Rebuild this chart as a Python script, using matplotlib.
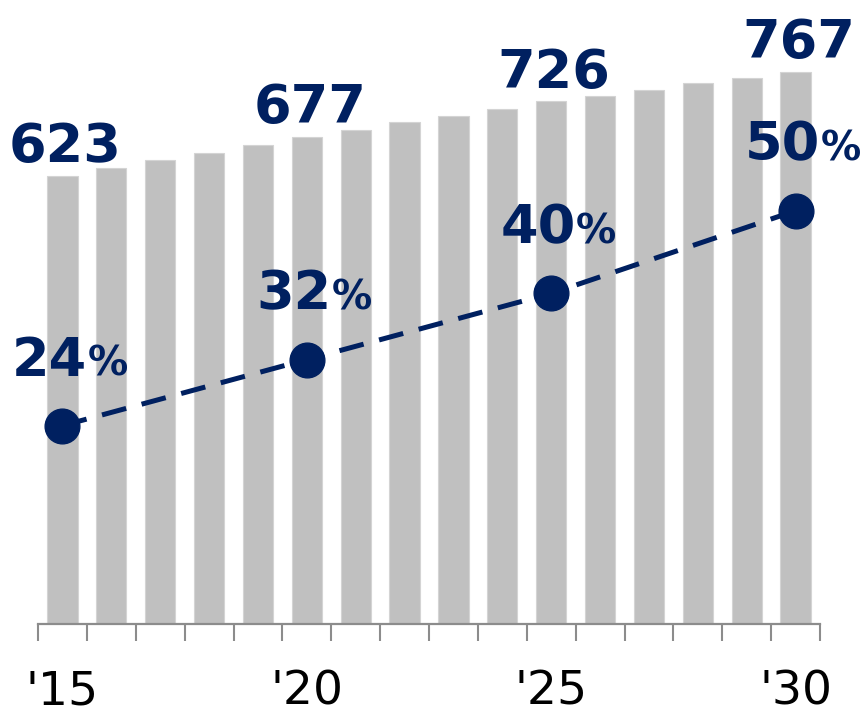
import numpy as np
import matplotlib.pyplot as plt

# bar series: yearly totals, 2015-2030
years = np.arange(2015, 2031)
totals = [623, 633, 644, 655, 665, 677, 687, 697, 706, 716, 726, 734, 742, 751, 759, 767]
labelled_years = [2015, 2020, 2025, 2030]

# share series shown on the dashed line (percent)
share_years = [2015, 2020, 2025, 2030]
share = [24, 32, 40, 50]

tick_years = [2015, 2020, 2025, 2030]
tick_labels = ["'15", "'20", "'25", "'30"]

navy = '#002060'
grey_bar = '#C0C0C0'
grey_axis = '#8C8C8C'

fig = plt.figure(figsize=(8.64, 7.12), dpi=100)
ax = fig.add_axes([38 / 864, 88 / 712, 782 / 864, 624 / 712])

ax.bar(years, totals, width=0.62, color=grey_bar, edgecolor='#D4D4D4', linewidth=0.8, zorder=1)
ax.set_xlim(2014.5, 2030.5)
ax.set_ylim(0, 867)

for s in ['top', 'right', 'left']:
    ax.spines[s].set_visible(False)
ax.spines['bottom'].set_color(grey_axis)
ax.spines['bottom'].set_linewidth(1.6)
ax.set_yticks([])

# tick marks between bars, labels under the marked years
ax.set_xticks(np.arange(2014.5, 2031, 1.0))
ax.set_xticklabels([])
ax.tick_params(axis='x', which='major', length=12, width=1.5, color=grey_axis)
ax.set_xticks(tick_years, minor=True)
ax.set_xticklabels(tick_labels, minor=True, fontsize=34, color='black')
ax.tick_params(axis='x', which='minor', length=0, pad=33)

for yr, val in zip(years, totals):
    if yr in labelled_years:
        ax.annotate(str(val), xy=(yr, val), xytext=(2, 10), textcoords='offset points',
                    ha='center', va='baseline', fontsize=39, fontweight='bold',
                    color=navy, annotation_clip=False)

ax2 = ax.twinx()
ax2.set_ylim(0, 75.5)
ax2.axis('off')
ax2.plot(share_years, share, color=navy, linewidth=3.6, linestyle=(0, (5, 3.2)),
         marker='o', markersize=25, zorder=3, clip_on=False)

for yr, pct in zip(share_years, share):
    ax2.annotate(str(pct), xy=(yr, pct), xytext=(18, 36), textcoords='offset points',
                 ha='right', va='baseline', fontsize=39, fontweight='bold',
                 color=navy, annotation_clip=False)
    ax2.annotate('%', xy=(yr, pct), xytext=(18, 36), textcoords='offset points',
                 ha='left', va='baseline', fontsize=29, fontweight='bold',
                 color=navy, annotation_clip=False)

fig.savefig('out.png', dpi=100)
